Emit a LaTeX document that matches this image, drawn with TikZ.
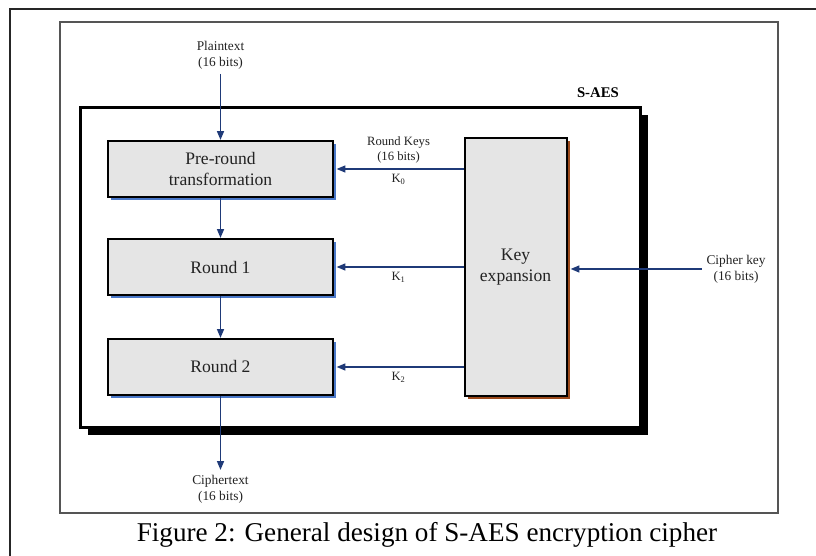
\documentclass[tikz,border=0pt]{standalone}
\usepackage{fontspec}
\setmainfont{Liberation Serif}
\usepackage{xcolor}
\definecolor{saesNavy}{HTML}{1F3A78}
\definecolor{saesFill}{HTML}{E5E5E5}
\definecolor{saesBlue}{HTML}{4A78C8}
\definecolor{saesBrown}{HTML}{9C4A1C}
\definecolor{saesFrame}{HTML}{555555}
\definecolor{saesText}{HTML}{222222}
\usepackage{tikz}
\usetikzlibrary{arrows.meta,positioning,shadows}
\tikzset{
    stage/.style={
        draw=black,
        fill=saesFill,
        rectangle,
        line width=1.4pt,
        minimum width=5.6cm,
        minimum height=1.4cm,
        align=center,
        text=saesText,
        font=\fontsize{12.5}{15}\selectfont,
        drop shadow={fill=saesBlue, opacity=1, shadow xshift=0.075cm, shadow yshift=-0.075cm}
    },
    keybox/.style={
        draw=black,
        fill=saesFill,
        rectangle,
        line width=1.4pt,
        minimum width=2.55cm,
        minimum height=6.45cm,
        align=center,
        text=saesText,
        font=\fontsize{12.5}{15}\selectfont,
        drop shadow={fill=saesBrown, opacity=1, shadow xshift=0.075cm, shadow yshift=-0.075cm}
    },
    cipherbox/.style={
        draw=black,
        fill=white,
        rectangle,
        line width=1.8pt,
        minimum width=14cm,
        minimum height=8cm,
        drop shadow={fill=black, opacity=1, shadow xshift=0.18cm, shadow yshift=-0.18cm}
    },
    flow/.style={
        -{Triangle[length=0.22cm,width=0.17cm]},
        line width=1.2pt,
        draw=saesNavy
    },
    io/.style={
        font=\fontsize{9.5}{11.5}\selectfont,
        text=saesText,
        align=center
    },
    keylbl/.style={
        font=\fontsize{9}{11}\selectfont,
        text=saesText,
        align=center,
        midway
    }
}

\begin{document}
\begin{tikzpicture}[x=0.025cm, y=-0.025cm]
    \useasboundingbox (0,0) rectangle (816,556);

    % Page and figure frames
    \draw[line width=1.2pt, black!85] (10,556) |- (816,9);
    \draw[line width=1.5pt, saesFrame] (60,22) rectangle (778,513);

    % S-AES cipher box
    \node[cipherbox] (saesbox) at (360.5,267.5) {};
    \node[above left=0.08cm and 0.45cm of saesbox.north east, font=\fontsize{10.5}{12}\selectfont\bfseries] (saestitle) {S-AES};

    % Rounds
    \node[stage] (pre) at (220.5,169) {Pre-round\\transformation};
    \node[stage, below=1cm of pre] (round1) {Round 1};
    \node[stage, below=1.05cm of round1] (round2) {Round 2};

    % Key expansion
    \node[keybox, right=3.25cm of round1] (keyx) {Key\\expansion};

    % Input and output
    \node[io, above=1.65cm of pre] (ptext) {Plaintext\\(16 bits)};
    \node[io, below=1.85cm of round2] (ctext) {Ciphertext\\(16 bits)};
    \node[io, right=3.35cm of keyx, yshift=-0.05cm] (ckey) {Cipher key\\(16 bits)};

    % Arrows
    \draw[flow] (ptext) -- (pre);
    \draw[flow] (pre) -- (round1);
    \draw[flow] (round1) -- (round2);
    \draw[flow] (round2) -- (ctext);
    \draw[flow, shorten >=0.075cm] (keyx.west |- pre.east) -- node[keylbl, above] {Round Keys\\(16 bits)} node[keylbl, below] {K\textsubscript{0}} (pre.east);
    \draw[flow, shorten >=0.075cm] (keyx.west |- round1.east) -- node[keylbl, below] {K\textsubscript{1}} (round1.east);
    \draw[flow, shorten >=0.075cm] (keyx.west |- round2.east) -- node[keylbl, below] {K\textsubscript{2}} (round2.east);
    \draw[flow, shorten >=0.075cm] (ckey) -- (keyx.east |- ckey);

    % Caption
    \node[font=\fontsize{19.3}{22}\selectfont, text=black] (caption) at (427,535) {Figure 2: General design of S-AES encryption cipher};
\end{tikzpicture}
\end{document}
